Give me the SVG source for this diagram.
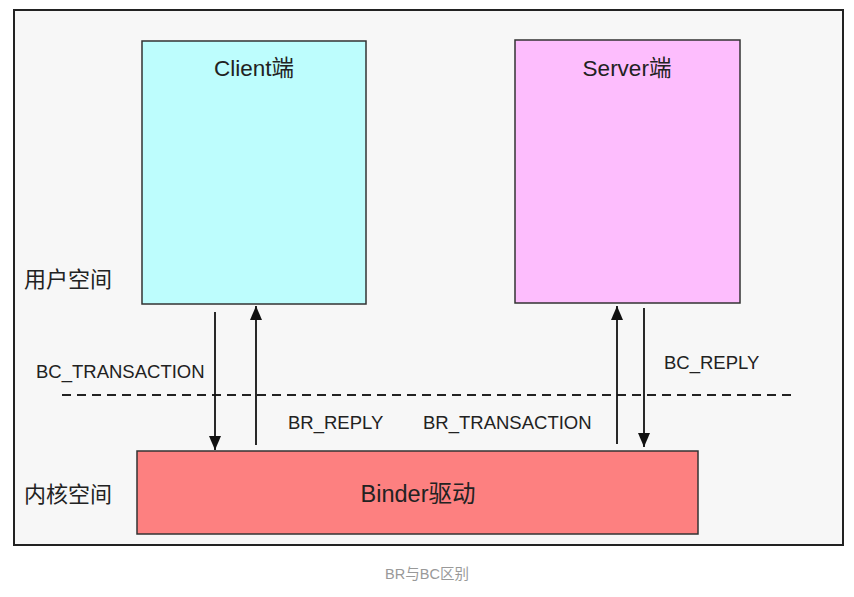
<svg xmlns="http://www.w3.org/2000/svg" width="854" height="597" viewBox="0 0 854 597">
<style>
text{font-family:"Liberation Sans","Noto Sans CJK SC",sans-serif;fill:#222}
.lbl{font-size:18.5px}
.cn{font-size:22px}
.ttl{font-size:22.5px;text-anchor:middle}
.box{stroke:#333;stroke-width:1.5}
.ln{stroke:#111;stroke-width:1.8;fill:none}
</style>
<defs>
<marker id="ah" viewBox="0 0 14 12" refX="14" refY="6" markerWidth="14" markerHeight="12" markerUnits="userSpaceOnUse" orient="auto">
<path d="M0,0 L14,6 L0,12 z" fill="#111"/>
</marker>
</defs>
<rect x="0" y="0" width="854" height="597" fill="#fff"/>
<rect x="14" y="10" width="829" height="535" fill="#f7f7f7" stroke="#222" stroke-width="2"/>
<g id="client"><rect class="box" x="142" y="41" width="224" height="263" fill="#bdfdfd"/><text class="ttl" x="254" y="76">Client端</text></g>
<g id="server"><rect class="box" x="515" y="40" width="225" height="263" fill="#fdbdfd"/><text class="ttl" x="627" y="76">Server端</text></g>
<g id="binder"><rect class="box" x="137" y="451" width="561" height="83" fill="#fd8080"/><text class="ttl" x="418" y="502" style="font-size:23.5px">Binder驱动</text></g>
<g id="labels">
<text class="cn" x="24" y="287">用户空间</text>
<text class="cn" x="24" y="502">内核空间</text>
<text class="lbl" x="36" y="378">BC_TRANSACTION</text>
<text class="lbl" x="288" y="429">BR_REPLY</text>
<text class="lbl" x="423" y="429">BR_TRANSACTION</text>
<text class="lbl" x="664" y="369">BC_REPLY</text>
</g>
<g id="connectors">
<line x1="62" y1="395" x2="795" y2="395" stroke="#222" stroke-width="1.8" stroke-dasharray="9,6"/>
<line class="ln" x1="215" y1="312" x2="215" y2="450" marker-end="url(#ah)"/>
<line class="ln" x1="256" y1="445" x2="256" y2="306" marker-end="url(#ah)"/>
<line class="ln" x1="617" y1="444" x2="617" y2="306" marker-end="url(#ah)"/>
<line class="ln" x1="644" y1="308" x2="644" y2="447" marker-end="url(#ah)"/>
</g>
<text x="427" y="579" style="font-size:14.5px;fill:#999;text-anchor:middle">BR与BC区别</text>
</svg>
